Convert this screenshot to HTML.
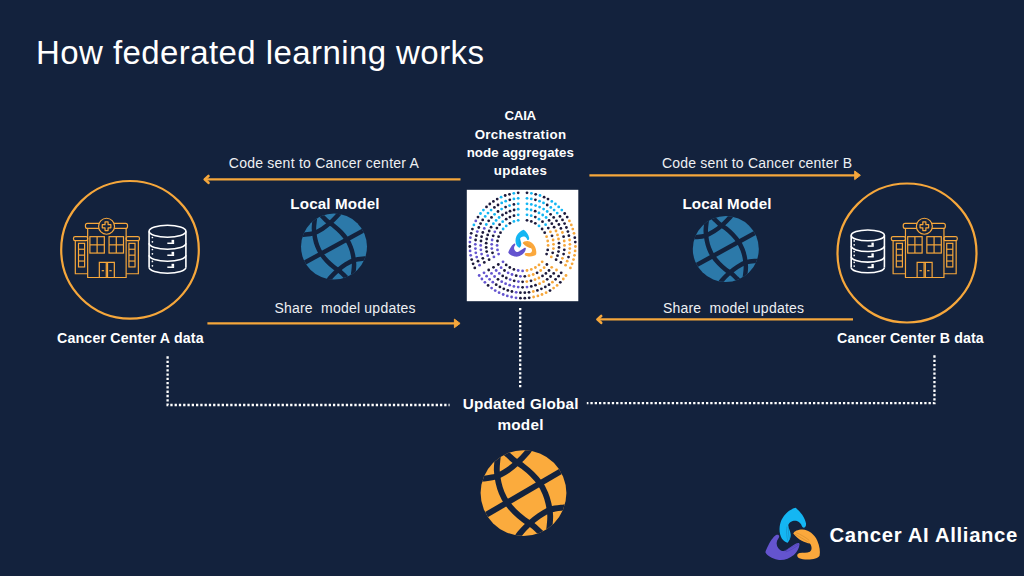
<!DOCTYPE html>
<html lang="en"><head><meta charset="utf-8"><title>How federated learning works</title>
<style>
html,body{margin:0;padding:0;}
body{width:1024px;height:576px;overflow:hidden;background:#13223d;font-family:"Liberation Sans",sans-serif;position:relative;}
.t{position:absolute;white-space:pre;color:#fff;}
</style></head><body>
<svg width="1024" height="576" viewBox="0 0 1024 576" style="position:absolute;left:0;top:0">
<circle cx="130" cy="249.8" r="68.8" fill="none" stroke="#f6a73b" stroke-width="2.2"/>
<circle cx="907" cy="253" r="69.5" fill="none" stroke="#f6a73b" stroke-width="2.2"/>
<g transform="translate(66.00 210.00)" fill="none" stroke="#f6a73b" stroke-width="1.2"><rect x="19.44" y="13.47" width="42.08" height="4.86" rx="1.94"/><path d="M21.67 18.33 V67.50 H60.14 V18.33"/><circle cx="40.56" cy="16.25" r="7.99" fill="#13223d"/><path stroke-linejoin="round" d="M39.03 11.94 L42.08 11.94 L42.08 14.72 L44.86 14.72 L44.86 17.78 L42.08 17.78 L42.08 20.56 L39.03 20.56 L39.03 17.78 L36.25 17.78 L36.25 14.72 L39.03 14.72 Z"/><rect x="23.89" y="26.67" width="14.44" height="16.39" rx="0.00"/><path d="M31.11 26.67 L31.11 43.06"/><path d="M23.89 34.86 L38.33 34.86"/><rect x="43.06" y="26.67" width="14.44" height="16.39" rx="0.00"/><path d="M50.28 26.67 L50.28 43.06"/><path d="M43.06 34.86 L57.50 34.86"/><path d="M33.33 67.50 V52.36 H48.33 V67.50"/><path d="M40.28 52.36 L40.28 67.50"/><path d="M41.53 52.36 L41.53 67.50"/><path d="M35.69 60.69 L38.06 60.69"/><path d="M43.33 60.69 L45.69 60.69"/><rect x="7.50" y="26.67" width="14.17" height="3.89" rx="1.67"/><path d="M9.31 30.56 V63.75 H21.67"/><rect x="12.50" y="33.33" width="6.11" height="23.61" rx="0.00"/><path d="M12.50 39.24 L18.61 39.24"/><path d="M12.50 45.14 L18.61 45.14"/><path d="M12.50 51.04 L18.61 51.04"/><rect x="60.14" y="26.67" width="13.33" height="3.89" rx="1.67"/><path d="M72.36 30.56 V63.75 H60.14"/><rect x="62.92" y="33.33" width="6.11" height="23.61" rx="0.00"/><path d="M62.92 39.24 L69.03 39.24"/><path d="M62.92 45.14 L69.03 45.14"/><path d="M62.92 51.04 L69.03 51.04"/></g>
<g fill="none" stroke="#ffffff" stroke-width="1.6"><ellipse cx="167.5" cy="231.28" rx="18.4" ry="5.98"/><path d="M149.1 231.28 V267.22 M185.9 231.28 V267.22"/><path d="M149.1 243.26 A18.4 5.98 0 0 0 185.9 243.26"/><path d="M149.1 255.24 A18.4 5.98 0 0 0 185.9 255.24"/><path d="M149.1 267.22 A18.4 5.98 0 0 0 185.9 267.22"/></g><g fill="#ffffff"><circle cx="152.41" cy="237.51" r="0.85"/><circle cx="152.41" cy="241.82" r="0.85"/><rect x="167.32" y="242.51" width="6.81" height="1.5"/><rect x="171.55" y="239.86" width="2.58" height="3"/><circle cx="152.41" cy="249.49" r="0.85"/><circle cx="152.41" cy="253.80" r="0.85"/><rect x="167.32" y="254.49" width="6.81" height="1.5"/><rect x="171.55" y="251.84" width="2.58" height="3"/><circle cx="152.41" cy="261.47" r="0.85"/><circle cx="152.41" cy="265.78" r="0.85"/><rect x="167.32" y="266.47" width="6.81" height="1.5"/><rect x="171.55" y="263.82" width="2.58" height="3"/></g>
<g transform="translate(883.80 210.00)" fill="none" stroke="#f6a73b" stroke-width="1.2"><rect x="19.44" y="13.47" width="42.08" height="4.86" rx="1.94"/><path d="M21.67 18.33 V67.50 H60.14 V18.33"/><circle cx="40.56" cy="16.25" r="7.99" fill="#13223d"/><path stroke-linejoin="round" d="M39.03 11.94 L42.08 11.94 L42.08 14.72 L44.86 14.72 L44.86 17.78 L42.08 17.78 L42.08 20.56 L39.03 20.56 L39.03 17.78 L36.25 17.78 L36.25 14.72 L39.03 14.72 Z"/><rect x="23.89" y="26.67" width="14.44" height="16.39" rx="0.00"/><path d="M31.11 26.67 L31.11 43.06"/><path d="M23.89 34.86 L38.33 34.86"/><rect x="43.06" y="26.67" width="14.44" height="16.39" rx="0.00"/><path d="M50.28 26.67 L50.28 43.06"/><path d="M43.06 34.86 L57.50 34.86"/><path d="M33.33 67.50 V52.36 H48.33 V67.50"/><path d="M40.28 52.36 L40.28 67.50"/><path d="M41.53 52.36 L41.53 67.50"/><path d="M35.69 60.69 L38.06 60.69"/><path d="M43.33 60.69 L45.69 60.69"/><rect x="7.50" y="26.67" width="14.17" height="3.89" rx="1.67"/><path d="M9.31 30.56 V63.75 H21.67"/><rect x="12.50" y="33.33" width="6.11" height="23.61" rx="0.00"/><path d="M12.50 39.24 L18.61 39.24"/><path d="M12.50 45.14 L18.61 45.14"/><path d="M12.50 51.04 L18.61 51.04"/><rect x="60.14" y="26.67" width="13.33" height="3.89" rx="1.67"/><path d="M72.36 30.56 V63.75 H60.14"/><rect x="62.92" y="33.33" width="6.11" height="23.61" rx="0.00"/><path d="M62.92 39.24 L69.03 39.24"/><path d="M62.92 45.14 L69.03 45.14"/><path d="M62.92 51.04 L69.03 51.04"/></g>
<g fill="none" stroke="#ffffff" stroke-width="1.6"><ellipse cx="867.8" cy="235.40" rx="16.6" ry="5.40"/><path d="M851.1999999999999 235.40 V267.41 M884.4 235.40 V267.41"/><path d="M851.1999999999999 246.07 A16.6 5.40 0 0 0 884.4 246.07"/><path d="M851.1999999999999 256.74 A16.6 5.40 0 0 0 884.4 256.74"/><path d="M851.1999999999999 267.41 A16.6 5.40 0 0 0 884.4 267.41"/></g><g fill="#ffffff"><circle cx="854.19" cy="240.94" r="0.85"/><circle cx="854.19" cy="244.78" r="0.85"/><rect x="867.63" y="245.32" width="6.14" height="1.5"/><rect x="871.45" y="242.67" width="2.32" height="3"/><circle cx="854.19" cy="251.61" r="0.85"/><circle cx="854.19" cy="255.45" r="0.85"/><rect x="867.63" y="255.99" width="6.14" height="1.5"/><rect x="871.45" y="253.34" width="2.32" height="3"/><circle cx="854.19" cy="262.28" r="0.85"/><circle cx="854.19" cy="266.12" r="0.85"/><rect x="867.63" y="266.66" width="6.14" height="1.5"/><rect x="871.45" y="264.01" width="2.32" height="3"/></g>
<path d="M460.5 179.4 H204.5" stroke="#f6a73b" stroke-width="2.3" fill="none"/><path d="M208.5 176.0 L204.7 179.4 L208.5 182.8" stroke="#f6a73b" stroke-width="2.6" fill="none" stroke-linejoin="round" stroke-linecap="round"/>
<path d="M207.4 323.4 H455.6" stroke="#f6a73b" stroke-width="2.3" fill="none"/><path d="M454.40000000000003 319.09999999999997 L460.1 323.4 L454.40000000000003 327.7 Z" fill="#f6a73b" stroke="#f6a73b" stroke-width="1" stroke-linejoin="round"/>
<path d="M589.4 175.3 H855.9" stroke="#f6a73b" stroke-width="2.3" fill="none"/><path d="M854.6999999999999 171.0 L860.4 175.3 L854.6999999999999 179.60000000000002 Z" fill="#f6a73b" stroke="#f6a73b" stroke-width="1" stroke-linejoin="round"/>
<path d="M853 319.4 H597.1999999999999" stroke="#f6a73b" stroke-width="2.3" fill="none"/><path d="M601.1999999999999 316.0 L597.4 319.4 L601.1999999999999 322.79999999999995" stroke="#f6a73b" stroke-width="2.6" fill="none" stroke-linejoin="round" stroke-linecap="round"/>
<g transform="translate(301.00 213.60) scale(0.6600)">
<clipPath id="g1"><circle cx="50" cy="50" r="50"/></clipPath>
<circle cx="50" cy="50" r="50" fill="#2c79a9"/>
<g clip-path="url(#g1)"><g fill="none" stroke="#13223d" stroke-width="6.8" transform="rotate(0 50 50)">
<path d="M-3 76.1 L103 23.9" transform="rotate(-2.5 50 50)"/>
<path d="M26.50 -1.50 C27.65 -0.35 31.08 3.15 33.40 5.40 C35.72 7.65 37.57 9.73 40.40 12.00 C43.23 14.27 47.07 16.33 50.40 19.00 C53.73 21.67 57.23 24.67 60.40 28.00 C63.57 31.33 66.90 35.17 69.40 39.00 C71.90 42.83 73.83 47.00 75.40 51.00 C76.97 55.00 77.97 58.67 78.80 63.00 C79.63 67.33 80.30 72.67 80.40 77.00 C80.50 81.33 79.80 85.50 79.40 89.00 C79.00 92.50 78.23 96.50 78.00 98.00"/>
<path d="M73.50 101.50 C72.35 100.35 68.92 96.85 66.60 94.60 C64.28 92.35 62.43 90.27 59.60 88.00 C56.77 85.73 52.93 83.67 49.60 81.00 C46.27 78.33 42.77 75.33 39.60 72.00 C36.43 68.67 33.10 64.83 30.60 61.00 C28.10 57.17 26.17 53.00 24.60 49.00 C23.03 45.00 22.03 41.33 21.20 37.00 C20.37 32.67 19.70 27.33 19.60 23.00 C19.50 18.67 20.20 14.50 20.60 11.00 C21.00 7.50 21.77 3.50 22.00 2.00"/>
<path d="M-3.00 32.40 C-1.93 32.33 -0.17 32.40 3.40 32.00 C6.97 31.60 13.57 31.50 18.40 30.00 C23.23 28.50 27.90 25.83 32.40 23.00 C36.90 20.17 41.57 16.33 45.40 13.00 C49.23 9.67 53.13 5.50 55.40 3.00 C57.67 0.50 58.40 -1.17 59.00 -2.00"/>
<path d="M103.00 67.60 C101.93 67.67 100.17 67.60 96.60 68.00 C93.03 68.40 86.43 68.50 81.60 70.00 C76.77 71.50 72.10 74.17 67.60 77.00 C63.10 79.83 58.43 83.67 54.60 87.00 C50.77 90.33 46.87 94.50 44.60 97.00 C42.33 99.50 41.60 101.17 41.00 102.00"/>
</g></g></g>
<g transform="translate(692.80 216.00) scale(0.6600)">
<clipPath id="g2"><circle cx="50" cy="50" r="50"/></clipPath>
<circle cx="50" cy="50" r="50" fill="#2c79a9"/>
<g clip-path="url(#g2)"><g fill="none" stroke="#13223d" stroke-width="6.8" transform="rotate(0 50 50)">
<path d="M-3 76.1 L103 23.9" transform="rotate(-2.5 50 50)"/>
<path d="M26.50 -1.50 C27.65 -0.35 31.08 3.15 33.40 5.40 C35.72 7.65 37.57 9.73 40.40 12.00 C43.23 14.27 47.07 16.33 50.40 19.00 C53.73 21.67 57.23 24.67 60.40 28.00 C63.57 31.33 66.90 35.17 69.40 39.00 C71.90 42.83 73.83 47.00 75.40 51.00 C76.97 55.00 77.97 58.67 78.80 63.00 C79.63 67.33 80.30 72.67 80.40 77.00 C80.50 81.33 79.80 85.50 79.40 89.00 C79.00 92.50 78.23 96.50 78.00 98.00"/>
<path d="M73.50 101.50 C72.35 100.35 68.92 96.85 66.60 94.60 C64.28 92.35 62.43 90.27 59.60 88.00 C56.77 85.73 52.93 83.67 49.60 81.00 C46.27 78.33 42.77 75.33 39.60 72.00 C36.43 68.67 33.10 64.83 30.60 61.00 C28.10 57.17 26.17 53.00 24.60 49.00 C23.03 45.00 22.03 41.33 21.20 37.00 C20.37 32.67 19.70 27.33 19.60 23.00 C19.50 18.67 20.20 14.50 20.60 11.00 C21.00 7.50 21.77 3.50 22.00 2.00"/>
<path d="M-3.00 32.40 C-1.93 32.33 -0.17 32.40 3.40 32.00 C6.97 31.60 13.57 31.50 18.40 30.00 C23.23 28.50 27.90 25.83 32.40 23.00 C36.90 20.17 41.57 16.33 45.40 13.00 C49.23 9.67 53.13 5.50 55.40 3.00 C57.67 0.50 58.40 -1.17 59.00 -2.00"/>
<path d="M103.00 67.60 C101.93 67.67 100.17 67.60 96.60 68.00 C93.03 68.40 86.43 68.50 81.60 70.00 C76.77 71.50 72.10 74.17 67.60 77.00 C63.10 79.83 58.43 83.67 54.60 87.00 C50.77 90.33 46.87 94.50 44.60 97.00 C42.33 99.50 41.60 101.17 41.00 102.00"/>
</g></g></g>
<g transform="translate(480.60 450.15) scale(0.8580)">
<clipPath id="g3"><circle cx="50" cy="50" r="50"/></clipPath>
<circle cx="50" cy="50" r="50" fill="#fbab3d"/>
<g clip-path="url(#g3)"><g fill="none" stroke="#13223d" stroke-width="6.8" transform="rotate(-1.5 50 50)">
<path d="M-3 76.1 L103 23.9" transform="rotate(-2.5 50 50)"/>
<path d="M26.50 -1.50 C27.65 -0.35 31.08 3.15 33.40 5.40 C35.72 7.65 37.57 9.73 40.40 12.00 C43.23 14.27 47.07 16.33 50.40 19.00 C53.73 21.67 57.23 24.67 60.40 28.00 C63.57 31.33 66.90 35.17 69.40 39.00 C71.90 42.83 73.83 47.00 75.40 51.00 C76.97 55.00 77.97 58.67 78.80 63.00 C79.63 67.33 80.30 72.67 80.40 77.00 C80.50 81.33 79.80 85.50 79.40 89.00 C79.00 92.50 78.23 96.50 78.00 98.00"/>
<path d="M73.50 101.50 C72.35 100.35 68.92 96.85 66.60 94.60 C64.28 92.35 62.43 90.27 59.60 88.00 C56.77 85.73 52.93 83.67 49.60 81.00 C46.27 78.33 42.77 75.33 39.60 72.00 C36.43 68.67 33.10 64.83 30.60 61.00 C28.10 57.17 26.17 53.00 24.60 49.00 C23.03 45.00 22.03 41.33 21.20 37.00 C20.37 32.67 19.70 27.33 19.60 23.00 C19.50 18.67 20.20 14.50 20.60 11.00 C21.00 7.50 21.77 3.50 22.00 2.00"/>
<path d="M-3.00 32.40 C-1.93 32.33 -0.17 32.40 3.40 32.00 C6.97 31.60 13.57 31.50 18.40 30.00 C23.23 28.50 27.90 25.83 32.40 23.00 C36.90 20.17 41.57 16.33 45.40 13.00 C49.23 9.67 53.13 5.50 55.40 3.00 C57.67 0.50 58.40 -1.17 59.00 -2.00"/>
<path d="M103.00 67.60 C101.93 67.67 100.17 67.60 96.60 68.00 C93.03 68.40 86.43 68.50 81.60 70.00 C76.77 71.50 72.10 74.17 67.60 77.00 C63.10 79.83 58.43 83.67 54.60 87.00 C50.77 90.33 46.87 94.50 44.60 97.00 C42.33 99.50 41.60 101.17 41.00 102.00"/>
</g></g></g>
<rect x="466.8" y="189.8" width="111.5" height="111.4" fill="#ffffff"/>
<circle cx="527.0" cy="220.3" r="1.4" fill="#1d1a3c"/><circle cx="531.3" cy="221.4" r="1.4" fill="#1d1a3c"/><circle cx="535.3" cy="223.3" r="1.4" fill="#1d1a3c"/><circle cx="539.0" cy="225.9" r="1.4" fill="#14b6f3"/><circle cx="542.1" cy="229.0" r="1.4" fill="#1d1a3c"/><circle cx="544.7" cy="232.7" r="1.4" fill="#1d1a3c"/><circle cx="546.6" cy="236.7" r="1.4" fill="#f6a73b"/><circle cx="547.7" cy="241.0" r="1.4" fill="#f6a73b"/><circle cx="548.1" cy="245.4" r="1.4" fill="#f6a73b"/><circle cx="547.7" cy="249.9" r="1.4" fill="#1d1a3c"/><circle cx="546.6" cy="254.1" r="1.4" fill="#1d1a3c"/><circle cx="527.0" cy="214.8" r="1.4" fill="#14b6f3"/><circle cx="531.2" cy="215.7" r="1.4" fill="#14b6f3"/><circle cx="535.3" cy="217.1" r="1.4" fill="#1d1a3c"/><circle cx="539.0" cy="219.2" r="1.4" fill="#14b6f3"/><circle cx="542.5" cy="221.7" r="1.4" fill="#1d1a3c"/><circle cx="545.6" cy="224.7" r="1.4" fill="#14b6f3"/><circle cx="548.3" cy="228.1" r="1.4" fill="#1d1a3c"/><circle cx="550.4" cy="231.8" r="1.4" fill="#f6a73b"/><circle cx="552.0" cy="235.8" r="1.4" fill="#1d1a3c"/><circle cx="553.1" cy="240.0" r="1.4" fill="#f6a73b"/><circle cx="553.5" cy="244.3" r="1.4" fill="#f6a73b"/><circle cx="553.4" cy="248.6" r="1.4" fill="#f6a73b"/><circle cx="552.7" cy="252.8" r="1.4" fill="#1d1a3c"/><circle cx="551.3" cy="256.9" r="1.4" fill="#f6a73b"/><circle cx="527.0" cy="209.2" r="1.4" fill="#14b6f3"/><circle cx="531.1" cy="210.0" r="1.4" fill="#14b6f3"/><circle cx="535.2" cy="211.2" r="1.4" fill="#1d1a3c"/><circle cx="539.0" cy="212.9" r="1.4" fill="#14b6f3"/><circle cx="542.7" cy="215.0" r="1.4" fill="#14b6f3"/><circle cx="546.1" cy="217.5" r="1.4" fill="#14b6f3"/><circle cx="549.1" cy="220.4" r="1.4" fill="#1d1a3c"/><circle cx="551.8" cy="223.7" r="1.4" fill="#1d1a3c"/><circle cx="554.1" cy="227.2" r="1.4" fill="#1d1a3c"/><circle cx="556.0" cy="231.0" r="1.4" fill="#f6a73b"/><circle cx="557.5" cy="234.9" r="1.4" fill="#f6a73b"/><circle cx="558.5" cy="239.0" r="1.4" fill="#f6a73b"/><circle cx="559.0" cy="243.2" r="1.4" fill="#1d1a3c"/><circle cx="559.0" cy="247.4" r="1.4" fill="#1d1a3c"/><circle cx="558.5" cy="251.6" r="1.4" fill="#1d1a3c"/><circle cx="557.5" cy="255.7" r="1.4" fill="#1d1a3c"/><circle cx="556.1" cy="259.7" r="1.4" fill="#1d1a3c"/><circle cx="527.0" cy="203.8" r="1.4" fill="#14b6f3"/><circle cx="531.3" cy="204.4" r="1.4" fill="#14b6f3"/><circle cx="535.6" cy="205.6" r="1.4" fill="#14b6f3"/><circle cx="539.6" cy="207.1" r="1.4" fill="#14b6f3"/><circle cx="543.6" cy="209.1" r="1.4" fill="#14b6f3"/><circle cx="547.2" cy="211.5" r="1.4" fill="#14b6f3"/><circle cx="550.6" cy="214.3" r="1.4" fill="#1d1a3c"/><circle cx="553.7" cy="217.4" r="1.4" fill="#1d1a3c"/><circle cx="556.5" cy="220.8" r="1.4" fill="#1d1a3c"/><circle cx="558.9" cy="224.5" r="1.4" fill="#1d1a3c"/><circle cx="560.9" cy="228.4" r="1.4" fill="#1d1a3c"/><circle cx="562.4" cy="232.5" r="1.4" fill="#f6a73b"/><circle cx="563.6" cy="236.7" r="1.4" fill="#1d1a3c"/><circle cx="564.2" cy="241.0" r="1.4" fill="#f6a73b"/><circle cx="564.5" cy="245.4" r="1.4" fill="#f6a73b"/><circle cx="564.3" cy="249.8" r="1.4" fill="#1d1a3c"/><circle cx="563.6" cy="254.1" r="1.4" fill="#1d1a3c"/><circle cx="562.4" cy="258.3" r="1.4" fill="#f6a73b"/><circle cx="560.9" cy="262.4" r="1.4" fill="#1d1a3c"/><circle cx="527.0" cy="198.3" r="1.4" fill="#14b6f3"/><circle cx="531.3" cy="198.9" r="1.4" fill="#14b6f3"/><circle cx="535.4" cy="199.8" r="1.4" fill="#1d1a3c"/><circle cx="539.5" cy="201.2" r="1.4" fill="#14b6f3"/><circle cx="543.5" cy="202.9" r="1.4" fill="#14b6f3"/><circle cx="547.2" cy="205.0" r="1.4" fill="#1d1a3c"/><circle cx="550.8" cy="207.4" r="1.4" fill="#14b6f3"/><circle cx="554.1" cy="210.1" r="1.4" fill="#14b6f3"/><circle cx="557.2" cy="213.1" r="1.4" fill="#14b6f3"/><circle cx="560.0" cy="216.4" r="1.4" fill="#1d1a3c"/><circle cx="562.5" cy="219.9" r="1.4" fill="#1d1a3c"/><circle cx="564.6" cy="223.6" r="1.4" fill="#1d1a3c"/><circle cx="566.4" cy="227.5" r="1.4" fill="#1d1a3c"/><circle cx="567.9" cy="231.6" r="1.4" fill="#1d1a3c"/><circle cx="568.9" cy="235.7" r="1.4" fill="#1d1a3c"/><circle cx="569.6" cy="240.0" r="1.4" fill="#f6a73b"/><circle cx="569.9" cy="244.3" r="1.4" fill="#f6a73b"/><circle cx="569.8" cy="248.6" r="1.4" fill="#f6a73b"/><circle cx="569.4" cy="252.8" r="1.4" fill="#f6a73b"/><circle cx="568.5" cy="257.1" r="1.4" fill="#1d1a3c"/><circle cx="567.2" cy="261.2" r="1.4" fill="#f6a73b"/><circle cx="565.6" cy="265.2" r="1.4" fill="#f6a73b"/><circle cx="527.0" cy="192.8" r="1.4" fill="#1d1a3c"/><circle cx="531.4" cy="193.3" r="1.4" fill="#14b6f3"/><circle cx="535.7" cy="194.3" r="1.4" fill="#1d1a3c"/><circle cx="540.0" cy="195.5" r="1.4" fill="#14b6f3"/><circle cx="544.1" cy="197.2" r="1.4" fill="#1d1a3c"/><circle cx="548.0" cy="199.1" r="1.4" fill="#1d1a3c"/><circle cx="551.8" cy="201.4" r="1.4" fill="#14b6f3"/><circle cx="555.4" cy="204.0" r="1.4" fill="#14b6f3"/><circle cx="558.7" cy="206.9" r="1.4" fill="#14b6f3"/><circle cx="561.8" cy="210.1" r="1.4" fill="#14b6f3"/><circle cx="564.7" cy="213.5" r="1.4" fill="#1d1a3c"/><circle cx="567.2" cy="217.1" r="1.4" fill="#1d1a3c"/><circle cx="569.4" cy="220.9" r="1.4" fill="#f6a73b"/><circle cx="571.3" cy="224.9" r="1.4" fill="#f6a73b"/><circle cx="572.8" cy="229.1" r="1.4" fill="#f6a73b"/><circle cx="574.0" cy="233.3" r="1.4" fill="#f6a73b"/><circle cx="574.8" cy="237.7" r="1.4" fill="#1d1a3c"/><circle cx="575.3" cy="242.1" r="1.4" fill="#1d1a3c"/><circle cx="575.4" cy="246.5" r="1.4" fill="#f6a73b"/><circle cx="575.1" cy="250.9" r="1.4" fill="#f6a73b"/><circle cx="574.5" cy="255.3" r="1.4" fill="#f6a73b"/><circle cx="573.5" cy="259.6" r="1.4" fill="#f6a73b"/><circle cx="572.1" cy="263.8" r="1.4" fill="#f6a73b"/><circle cx="570.4" cy="267.9" r="1.4" fill="#f6a73b"/><circle cx="542.2" cy="261.8" r="1.4" fill="#f6a73b"/><circle cx="539.0" cy="264.9" r="1.4" fill="#f6a73b"/><circle cx="535.4" cy="267.5" r="1.4" fill="#f6a73b"/><circle cx="531.3" cy="269.4" r="1.4" fill="#f6a73b"/><circle cx="527.0" cy="270.5" r="1.4" fill="#f6a73b"/><circle cx="522.6" cy="270.9" r="1.4" fill="#6454cf"/><circle cx="518.2" cy="270.5" r="1.4" fill="#6454cf"/><circle cx="513.9" cy="269.4" r="1.4" fill="#1d1a3c"/><circle cx="509.8" cy="267.5" r="1.4" fill="#1d1a3c"/><circle cx="506.2" cy="264.9" r="1.4" fill="#1d1a3c"/><circle cx="503.0" cy="261.8" r="1.4" fill="#6454cf"/><circle cx="546.9" cy="264.5" r="1.4" fill="#1d1a3c"/><circle cx="544.1" cy="267.7" r="1.4" fill="#f6a73b"/><circle cx="540.7" cy="270.5" r="1.4" fill="#f6a73b"/><circle cx="537.1" cy="272.8" r="1.4" fill="#1d1a3c"/><circle cx="533.2" cy="274.5" r="1.4" fill="#f6a73b"/><circle cx="529.0" cy="275.7" r="1.4" fill="#f6a73b"/><circle cx="524.8" cy="276.3" r="1.4" fill="#1d1a3c"/><circle cx="520.4" cy="276.3" r="1.4" fill="#6454cf"/><circle cx="516.2" cy="275.7" r="1.4" fill="#1d1a3c"/><circle cx="512.0" cy="274.5" r="1.4" fill="#6454cf"/><circle cx="508.1" cy="272.8" r="1.4" fill="#6454cf"/><circle cx="504.5" cy="270.5" r="1.4" fill="#1d1a3c"/><circle cx="501.1" cy="267.7" r="1.4" fill="#6454cf"/><circle cx="498.3" cy="264.5" r="1.4" fill="#1d1a3c"/><circle cx="551.7" cy="267.3" r="1.4" fill="#f6a73b"/><circle cx="549.0" cy="270.5" r="1.4" fill="#1d1a3c"/><circle cx="545.9" cy="273.4" r="1.4" fill="#1d1a3c"/><circle cx="542.5" cy="275.9" r="1.4" fill="#1d1a3c"/><circle cx="538.9" cy="278.0" r="1.4" fill="#f6a73b"/><circle cx="535.0" cy="279.6" r="1.4" fill="#f6a73b"/><circle cx="531.0" cy="280.8" r="1.4" fill="#1d1a3c"/><circle cx="526.8" cy="281.6" r="1.4" fill="#f6a73b"/><circle cx="522.6" cy="281.8" r="1.4" fill="#1d1a3c"/><circle cx="518.4" cy="281.6" r="1.4" fill="#6454cf"/><circle cx="514.2" cy="280.8" r="1.4" fill="#1d1a3c"/><circle cx="510.2" cy="279.6" r="1.4" fill="#6454cf"/><circle cx="506.3" cy="278.0" r="1.4" fill="#1d1a3c"/><circle cx="502.7" cy="275.9" r="1.4" fill="#1d1a3c"/><circle cx="499.3" cy="273.4" r="1.4" fill="#6454cf"/><circle cx="496.2" cy="270.5" r="1.4" fill="#6454cf"/><circle cx="493.5" cy="267.3" r="1.4" fill="#1d1a3c"/><circle cx="556.5" cy="270.0" r="1.4" fill="#f6a73b"/><circle cx="553.7" cy="273.4" r="1.4" fill="#1d1a3c"/><circle cx="550.6" cy="276.5" r="1.4" fill="#1d1a3c"/><circle cx="547.2" cy="279.3" r="1.4" fill="#1d1a3c"/><circle cx="543.5" cy="281.7" r="1.4" fill="#f6a73b"/><circle cx="539.6" cy="283.7" r="1.4" fill="#f6a73b"/><circle cx="535.5" cy="285.2" r="1.4" fill="#1d1a3c"/><circle cx="531.3" cy="286.4" r="1.4" fill="#1d1a3c"/><circle cx="527.0" cy="287.1" r="1.4" fill="#6454cf"/><circle cx="522.6" cy="287.3" r="1.4" fill="#1d1a3c"/><circle cx="518.2" cy="287.1" r="1.4" fill="#6454cf"/><circle cx="513.9" cy="286.4" r="1.4" fill="#6454cf"/><circle cx="509.7" cy="285.2" r="1.4" fill="#6454cf"/><circle cx="505.6" cy="283.7" r="1.4" fill="#6454cf"/><circle cx="501.7" cy="281.7" r="1.4" fill="#6454cf"/><circle cx="498.0" cy="279.3" r="1.4" fill="#1d1a3c"/><circle cx="494.6" cy="276.5" r="1.4" fill="#6454cf"/><circle cx="491.5" cy="273.4" r="1.4" fill="#6454cf"/><circle cx="488.7" cy="270.0" r="1.4" fill="#1d1a3c"/><circle cx="561.2" cy="272.8" r="1.4" fill="#1d1a3c"/><circle cx="558.6" cy="276.2" r="1.4" fill="#1d1a3c"/><circle cx="555.6" cy="279.3" r="1.4" fill="#1d1a3c"/><circle cx="552.4" cy="282.2" r="1.4" fill="#f6a73b"/><circle cx="549.0" cy="284.7" r="1.4" fill="#1d1a3c"/><circle cx="545.3" cy="286.9" r="1.4" fill="#1d1a3c"/><circle cx="541.4" cy="288.8" r="1.4" fill="#1d1a3c"/><circle cx="537.4" cy="290.4" r="1.4" fill="#1d1a3c"/><circle cx="533.3" cy="291.5" r="1.4" fill="#f6a73b"/><circle cx="529.0" cy="292.3" r="1.4" fill="#1d1a3c"/><circle cx="524.8" cy="292.7" r="1.4" fill="#1d1a3c"/><circle cx="520.4" cy="292.7" r="1.4" fill="#1d1a3c"/><circle cx="516.2" cy="292.3" r="1.4" fill="#6454cf"/><circle cx="511.9" cy="291.5" r="1.4" fill="#1d1a3c"/><circle cx="507.8" cy="290.4" r="1.4" fill="#1d1a3c"/><circle cx="503.8" cy="288.8" r="1.4" fill="#1d1a3c"/><circle cx="499.9" cy="286.9" r="1.4" fill="#1d1a3c"/><circle cx="496.2" cy="284.7" r="1.4" fill="#1d1a3c"/><circle cx="492.8" cy="282.2" r="1.4" fill="#6454cf"/><circle cx="489.6" cy="279.3" r="1.4" fill="#6454cf"/><circle cx="486.6" cy="276.2" r="1.4" fill="#6454cf"/><circle cx="484.0" cy="272.8" r="1.4" fill="#6454cf"/><circle cx="566.0" cy="275.5" r="1.4" fill="#f6a73b"/><circle cx="563.3" cy="279.0" r="1.4" fill="#f6a73b"/><circle cx="560.3" cy="282.3" r="1.4" fill="#1d1a3c"/><circle cx="557.1" cy="285.4" r="1.4" fill="#f6a73b"/><circle cx="553.6" cy="288.1" r="1.4" fill="#f6a73b"/><circle cx="550.0" cy="290.6" r="1.4" fill="#1d1a3c"/><circle cx="546.1" cy="292.7" r="1.4" fill="#f6a73b"/><circle cx="542.0" cy="294.5" r="1.4" fill="#f6a73b"/><circle cx="537.9" cy="295.9" r="1.4" fill="#f6a73b"/><circle cx="533.6" cy="297.0" r="1.4" fill="#f6a73b"/><circle cx="529.2" cy="297.8" r="1.4" fill="#1d1a3c"/><circle cx="524.8" cy="298.2" r="1.4" fill="#1d1a3c"/><circle cx="520.4" cy="298.2" r="1.4" fill="#1d1a3c"/><circle cx="516.0" cy="297.8" r="1.4" fill="#6454cf"/><circle cx="511.6" cy="297.0" r="1.4" fill="#6454cf"/><circle cx="507.3" cy="295.9" r="1.4" fill="#6454cf"/><circle cx="503.2" cy="294.5" r="1.4" fill="#6454cf"/><circle cx="499.1" cy="292.7" r="1.4" fill="#6454cf"/><circle cx="495.2" cy="290.6" r="1.4" fill="#6454cf"/><circle cx="491.6" cy="288.1" r="1.4" fill="#6454cf"/><circle cx="488.1" cy="285.4" r="1.4" fill="#1d1a3c"/><circle cx="484.9" cy="282.3" r="1.4" fill="#6454cf"/><circle cx="481.9" cy="279.0" r="1.4" fill="#6454cf"/><circle cx="479.2" cy="275.5" r="1.4" fill="#6454cf"/><circle cx="498.6" cy="254.1" r="1.4" fill="#6454cf"/><circle cx="497.5" cy="249.9" r="1.4" fill="#6454cf"/><circle cx="497.1" cy="245.4" r="1.4" fill="#6454cf"/><circle cx="497.5" cy="241.0" r="1.4" fill="#1d1a3c"/><circle cx="498.6" cy="236.7" r="1.4" fill="#1d1a3c"/><circle cx="500.5" cy="232.7" r="1.4" fill="#1d1a3c"/><circle cx="503.1" cy="229.0" r="1.4" fill="#14b6f3"/><circle cx="506.2" cy="225.9" r="1.4" fill="#14b6f3"/><circle cx="509.9" cy="223.3" r="1.4" fill="#1d1a3c"/><circle cx="513.9" cy="221.4" r="1.4" fill="#14b6f3"/><circle cx="518.2" cy="220.3" r="1.4" fill="#14b6f3"/><circle cx="493.9" cy="256.9" r="1.4" fill="#6454cf"/><circle cx="492.5" cy="252.8" r="1.4" fill="#1d1a3c"/><circle cx="491.8" cy="248.6" r="1.4" fill="#6454cf"/><circle cx="491.7" cy="244.3" r="1.4" fill="#6454cf"/><circle cx="492.1" cy="240.0" r="1.4" fill="#6454cf"/><circle cx="493.2" cy="235.8" r="1.4" fill="#1d1a3c"/><circle cx="494.8" cy="231.8" r="1.4" fill="#6454cf"/><circle cx="496.9" cy="228.1" r="1.4" fill="#1d1a3c"/><circle cx="499.6" cy="224.7" r="1.4" fill="#1d1a3c"/><circle cx="502.7" cy="221.7" r="1.4" fill="#14b6f3"/><circle cx="506.2" cy="219.2" r="1.4" fill="#1d1a3c"/><circle cx="509.9" cy="217.1" r="1.4" fill="#1d1a3c"/><circle cx="514.0" cy="215.7" r="1.4" fill="#1d1a3c"/><circle cx="518.2" cy="214.8" r="1.4" fill="#14b6f3"/><circle cx="489.1" cy="259.7" r="1.4" fill="#1d1a3c"/><circle cx="487.7" cy="255.7" r="1.4" fill="#6454cf"/><circle cx="486.7" cy="251.6" r="1.4" fill="#1d1a3c"/><circle cx="486.2" cy="247.4" r="1.4" fill="#1d1a3c"/><circle cx="486.2" cy="243.2" r="1.4" fill="#1d1a3c"/><circle cx="486.7" cy="239.0" r="1.4" fill="#1d1a3c"/><circle cx="487.7" cy="234.9" r="1.4" fill="#1d1a3c"/><circle cx="489.2" cy="231.0" r="1.4" fill="#1d1a3c"/><circle cx="491.1" cy="227.2" r="1.4" fill="#1d1a3c"/><circle cx="493.4" cy="223.7" r="1.4" fill="#14b6f3"/><circle cx="496.1" cy="220.4" r="1.4" fill="#14b6f3"/><circle cx="499.1" cy="217.5" r="1.4" fill="#14b6f3"/><circle cx="502.5" cy="215.0" r="1.4" fill="#1d1a3c"/><circle cx="506.2" cy="212.9" r="1.4" fill="#1d1a3c"/><circle cx="510.0" cy="211.2" r="1.4" fill="#1d1a3c"/><circle cx="514.1" cy="210.0" r="1.4" fill="#1d1a3c"/><circle cx="518.2" cy="209.2" r="1.4" fill="#14b6f3"/><circle cx="484.3" cy="262.4" r="1.4" fill="#1d1a3c"/><circle cx="482.8" cy="258.3" r="1.4" fill="#1d1a3c"/><circle cx="481.6" cy="254.1" r="1.4" fill="#6454cf"/><circle cx="480.9" cy="249.8" r="1.4" fill="#6454cf"/><circle cx="480.7" cy="245.4" r="1.4" fill="#6454cf"/><circle cx="481.0" cy="241.0" r="1.4" fill="#1d1a3c"/><circle cx="481.6" cy="236.7" r="1.4" fill="#1d1a3c"/><circle cx="482.8" cy="232.5" r="1.4" fill="#1d1a3c"/><circle cx="484.3" cy="228.4" r="1.4" fill="#6454cf"/><circle cx="486.3" cy="224.5" r="1.4" fill="#14b6f3"/><circle cx="488.7" cy="220.8" r="1.4" fill="#1d1a3c"/><circle cx="491.5" cy="217.4" r="1.4" fill="#1d1a3c"/><circle cx="494.6" cy="214.3" r="1.4" fill="#14b6f3"/><circle cx="498.0" cy="211.5" r="1.4" fill="#1d1a3c"/><circle cx="501.6" cy="209.1" r="1.4" fill="#14b6f3"/><circle cx="505.6" cy="207.1" r="1.4" fill="#1d1a3c"/><circle cx="509.6" cy="205.6" r="1.4" fill="#14b6f3"/><circle cx="513.9" cy="204.4" r="1.4" fill="#1d1a3c"/><circle cx="518.2" cy="203.8" r="1.4" fill="#14b6f3"/><circle cx="479.6" cy="265.2" r="1.4" fill="#6454cf"/><circle cx="478.0" cy="261.2" r="1.4" fill="#1d1a3c"/><circle cx="476.7" cy="257.1" r="1.4" fill="#6454cf"/><circle cx="475.8" cy="252.8" r="1.4" fill="#6454cf"/><circle cx="475.4" cy="248.6" r="1.4" fill="#6454cf"/><circle cx="475.3" cy="244.3" r="1.4" fill="#6454cf"/><circle cx="475.6" cy="240.0" r="1.4" fill="#1d1a3c"/><circle cx="476.3" cy="235.7" r="1.4" fill="#1d1a3c"/><circle cx="477.3" cy="231.6" r="1.4" fill="#6454cf"/><circle cx="478.8" cy="227.5" r="1.4" fill="#1d1a3c"/><circle cx="480.6" cy="223.6" r="1.4" fill="#1d1a3c"/><circle cx="482.7" cy="219.9" r="1.4" fill="#1d1a3c"/><circle cx="485.2" cy="216.4" r="1.4" fill="#14b6f3"/><circle cx="488.0" cy="213.1" r="1.4" fill="#14b6f3"/><circle cx="491.1" cy="210.1" r="1.4" fill="#14b6f3"/><circle cx="494.4" cy="207.4" r="1.4" fill="#1d1a3c"/><circle cx="498.0" cy="205.0" r="1.4" fill="#1d1a3c"/><circle cx="501.7" cy="202.9" r="1.4" fill="#14b6f3"/><circle cx="505.7" cy="201.2" r="1.4" fill="#14b6f3"/><circle cx="509.8" cy="199.8" r="1.4" fill="#1d1a3c"/><circle cx="513.9" cy="198.9" r="1.4" fill="#14b6f3"/><circle cx="518.2" cy="198.3" r="1.4" fill="#14b6f3"/><circle cx="474.8" cy="267.9" r="1.4" fill="#1d1a3c"/><circle cx="473.1" cy="263.8" r="1.4" fill="#1d1a3c"/><circle cx="471.7" cy="259.6" r="1.4" fill="#1d1a3c"/><circle cx="470.7" cy="255.3" r="1.4" fill="#6454cf"/><circle cx="470.1" cy="250.9" r="1.4" fill="#6454cf"/><circle cx="469.8" cy="246.5" r="1.4" fill="#1d1a3c"/><circle cx="469.9" cy="242.1" r="1.4" fill="#6454cf"/><circle cx="470.4" cy="237.7" r="1.4" fill="#6454cf"/><circle cx="471.2" cy="233.3" r="1.4" fill="#1d1a3c"/><circle cx="472.4" cy="229.1" r="1.4" fill="#1d1a3c"/><circle cx="473.9" cy="224.9" r="1.4" fill="#14b6f3"/><circle cx="475.8" cy="220.9" r="1.4" fill="#6454cf"/><circle cx="478.0" cy="217.1" r="1.4" fill="#1d1a3c"/><circle cx="480.5" cy="213.5" r="1.4" fill="#14b6f3"/><circle cx="483.4" cy="210.1" r="1.4" fill="#14b6f3"/><circle cx="486.5" cy="206.9" r="1.4" fill="#1d1a3c"/><circle cx="489.8" cy="204.0" r="1.4" fill="#1d1a3c"/><circle cx="493.4" cy="201.4" r="1.4" fill="#1d1a3c"/><circle cx="497.2" cy="199.1" r="1.4" fill="#1d1a3c"/><circle cx="501.1" cy="197.2" r="1.4" fill="#14b6f3"/><circle cx="505.2" cy="195.5" r="1.4" fill="#1d1a3c"/><circle cx="509.5" cy="194.3" r="1.4" fill="#1d1a3c"/><circle cx="513.8" cy="193.3" r="1.4" fill="#14b6f3"/><circle cx="518.2" cy="192.8" r="1.4" fill="#1d1a3c"/>
<g transform="translate(503.40 225.70) scale(0.05903)">
<path fill="#14b6f3" d="M345 68 C300 78 250 120 222 175 C200 225 198 290 225 335 C238 355 258 368 277 373 C295 350 305 325 303 300 C300 270 285 250 280 225 C285 195 320 178 350 182 C375 186 392 205 402 232 C410 250 438 245 437 208 C428 150 385 100 345 68 Z"/>
<path fill="#fba83c" d="M325 293 C335 272 365 258 405 258 C460 260 510 300 535 355 C555 400 562 450 555 485 C545 510 500 520 450 520 C420 520 395 515 378 508 C355 498 352 470 380 462 C410 460 445 465 470 452 C490 440 490 405 470 380 C430 375 370 350 325 293 Z"/>
<path fill="#6454cf" d="M180 304 C160 312 130 350 108 395 C95 420 85 440 82 456 C95 485 140 510 190 522 C240 530 290 512 330 480 C360 452 378 420 380 385 C378 372 365 372 350 380 C320 395 290 420 262 440 C240 452 215 445 195 420 C175 395 175 360 195 335 C210 318 200 298 180 304 Z"/>
<g fill="none" stroke-width="5" stroke-linecap="round">
<path stroke="#1687bd" d="M270 235 C262 280 268 325 278 355 M284 225 C280 270 284 310 292 340"/>
<path stroke="#d08a2c" d="M340 298 C380 320 420 345 458 368 M350 285 C390 300 430 325 462 350"/>
<path stroke="#4c3fae" d="M245 445 C290 425 330 400 365 382 M262 452 C300 440 340 415 372 392"/>
</g>
</g>
<path d="M520.2 307.95 V387.3" fill="none" stroke="#ffffff" stroke-width="2.3" stroke-dasharray="2.3 1.98"/>
<path d="M167.6 356.35 V405 H449.6" fill="none" stroke="#ffffff" stroke-width="2.3" stroke-dasharray="2.3 1.98"/>
<path d="M934.45 355.35 V403.1 H586.8" fill="none" stroke="#ffffff" stroke-width="2.3" stroke-dasharray="2.3 1.98"/>
<g transform="translate(756.00 500.00) scale(0.11461)">
<path fill="#14b6f3" d="M345 68 C300 78 250 120 222 175 C200 225 198 290 225 335 C238 355 258 368 277 373 C295 350 305 325 303 300 C300 270 285 250 280 225 C285 195 320 178 350 182 C375 186 392 205 402 232 C410 250 438 245 437 208 C428 150 385 100 345 68 Z"/>
<path fill="#fba83c" d="M325 293 C335 272 365 258 405 258 C460 260 510 300 535 355 C555 400 562 450 555 485 C545 510 500 520 450 520 C420 520 395 515 378 508 C355 498 352 470 380 462 C410 460 445 465 470 452 C490 440 490 405 470 380 C430 375 370 350 325 293 Z"/>
<path fill="#6454cf" d="M180 304 C160 312 130 350 108 395 C95 420 85 440 82 456 C95 485 140 510 190 522 C240 530 290 512 330 480 C360 452 378 420 380 385 C378 372 365 372 350 380 C320 395 290 420 262 440 C240 452 215 445 195 420 C175 395 175 360 195 335 C210 318 200 298 180 304 Z"/>
<g fill="none" stroke-width="5" stroke-linecap="round">
<path stroke="#1687bd" d="M270 235 C262 280 268 325 278 355 M284 225 C280 270 284 310 292 340"/>
<path stroke="#d08a2c" d="M340 298 C380 320 420 345 458 368 M350 285 C390 300 430 325 462 350"/>
<path stroke="#4c3fae" d="M245 445 C290 425 330 400 365 382 M262 452 C300 440 340 415 372 392"/>
</g>
</g>
</svg>
<div class="t" style="font-size:33px;font-weight:400;top:36.00px;line-height:33px;color:#fff;letter-spacing:0.423px;left:36.00px;">How federated learning works</div>
<div class="t" style="font-size:14px;font-weight:400;top:156.00px;line-height:14px;color:#eef0f3;letter-spacing:0.238px;left:228.80px;">Code sent to Cancer center A</div>
<div class="t" style="font-size:14px;font-weight:400;top:156.00px;line-height:14px;color:#eef0f3;letter-spacing:0.21px;left:661.90px;">Code sent to Cancer center B</div>
<div class="t" style="font-size:15.2px;font-weight:700;top:195.90px;line-height:15.2px;color:#fff;letter-spacing:0.147px;left:290.30px;">Local Model</div>
<div class="t" style="font-size:15.2px;font-weight:700;top:195.90px;line-height:15.2px;color:#fff;letter-spacing:0.137px;left:682.40px;">Local Model</div>
<div class="t" style="font-size:14px;font-weight:400;top:301.00px;line-height:14px;color:#eef0f3;letter-spacing:0.217px;left:274.40px;">Share&nbsp; model updates</div>
<div class="t" style="font-size:14px;font-weight:400;top:301.00px;line-height:14px;color:#eef0f3;letter-spacing:0.217px;left:662.90px;">Share&nbsp; model updates</div>
<div class="t" style="font-size:14.2px;font-weight:700;top:330.90px;line-height:14.2px;color:#fff;letter-spacing:0.176px;left:57.00px;">Cancer Center A data</div>
<div class="t" style="font-size:14.2px;font-weight:700;top:330.90px;line-height:14.2px;color:#fff;letter-spacing:0.12px;left:837.10px;">Cancer Center B data</div>
<div class="t" style="font-size:13.3px;font-weight:700;top:108.85px;line-height:13.3px;color:#fff;letter-spacing:-0.303px;left:504.55px;">CAIA</div>
<div class="t" style="font-size:13.3px;font-weight:700;top:127.85px;line-height:13.3px;color:#fff;letter-spacing:0.349px;left:474.65px;">Orchestration</div>
<div class="t" style="font-size:13.3px;font-weight:700;top:145.85px;line-height:13.3px;color:#fff;letter-spacing:0.062px;left:466.70px;">node aggregates</div>
<div class="t" style="font-size:13.3px;font-weight:700;top:163.85px;line-height:13.3px;color:#fff;letter-spacing:0.351px;left:493.80px;">updates</div>
<div class="t" style="font-size:15.3px;font-weight:700;top:395.85px;line-height:15.3px;color:#fff;letter-spacing:0.219px;left:462.70px;">Updated Global</div>
<div class="t" style="font-size:15.3px;font-weight:700;top:416.85px;line-height:15.3px;color:#fff;letter-spacing:0.211px;left:497.50px;">model</div>
<div class="t" style="font-size:20.3px;font-weight:700;top:524.85px;line-height:20.3px;color:#fff;letter-spacing:0.662px;left:829.50px;">Cancer AI Alliance</div>
</body></html>
